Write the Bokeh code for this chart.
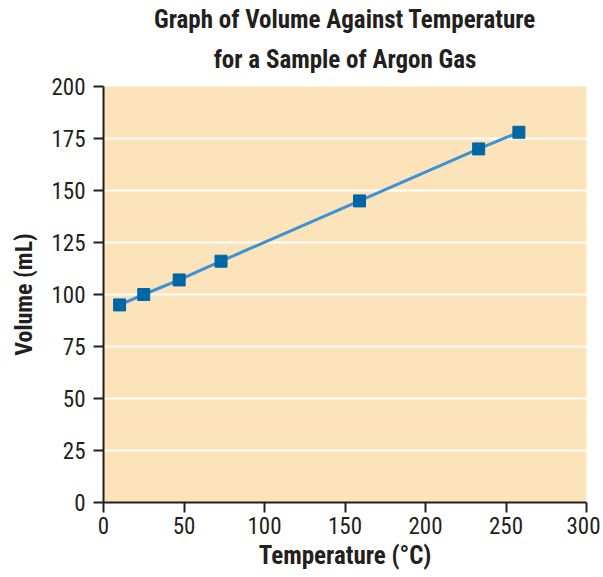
from bokeh.plotting import figure
from bokeh.embed import file_html
from bokeh.resources import INLINE
from bokeh.models import FixedTicker, Range1d, Title

temperature = [10, 25, 47, 73, 159, 233, 258]
volume = [95, 100, 107, 116, 145, 170, 178]
x_ticks = [0, 50, 100, 150, 200, 250, 300]
y_ticks = [0, 25, 50, 75, 100, 125, 150, 175, 200]
title_lines = ["Graph of Volume Against Temperature", "for a Sample of Argon Gas"]

FONT = "'Liberation Sans Narrow', 'Roboto Condensed', 'Arial Narrow', sans-serif"

p = figure(width=600, height=576, output_backend="svg", toolbar_location=None,
           x_range=Range1d(0, 300), y_range=Range1d(0, 200),
           min_border_left=103, min_border_right=14, min_border_top=86, min_border_bottom=74)
p.title.visible = False
p.background_fill_color = "#FDE3B9"
p.border_fill_color = "white"
p.outline_line_color = None

for i, line in enumerate(reversed(title_lines)):
    t = Title(text=line, align="center", text_font=FONT, text_font_size="25px",
              text_font_style="bold", text_color="#231F20",
              standoff=25 if i == 0 else -6)
    p.add_layout(t, "above")

p.xgrid.grid_line_color = None
p.ygrid.grid_line_color = "white"
p.ygrid.grid_line_width = 2

p.xaxis.ticker = FixedTicker(ticks=x_ticks)
p.yaxis.ticker = FixedTicker(ticks=y_ticks)
for ax in (p.xaxis, p.yaxis):
    ax.axis_line_color = "#231F20"
    ax.axis_line_width = 2
    ax.major_tick_line_color = "#231F20"
    ax.major_tick_line_width = 2
    ax.major_tick_out = 10
    ax.major_tick_in = 0
    ax.minor_tick_line_color = None
    ax.major_label_text_font = FONT
    ax.major_label_text_font_size = "23px"
    ax.major_label_text_color = "#231F20"
    ax.axis_label_text_font = FONT
    ax.axis_label_text_font_style = "bold"
    ax.axis_label_text_color = "#231F20"
p.xaxis.axis_label_text_font_size = "25px"
p.yaxis.axis_label_text_font_size = "24px"
p.xaxis.axis_label = "Temperature (°C)"
p.yaxis.axis_label = "Volume (mL)"
p.xaxis.major_label_standoff = 4
p.yaxis.major_label_standoff = 8
p.xaxis.axis_label_standoff = 4
p.yaxis.axis_label_standoff = 10

p.line(temperature, volume, line_color="#3D92D6", line_width=3)
p.scatter(temperature, volume, marker="square", size=12, fill_color="#0067A6", line_color="#0067A6")

open("out.html", "w").write(file_html(p, INLINE))
